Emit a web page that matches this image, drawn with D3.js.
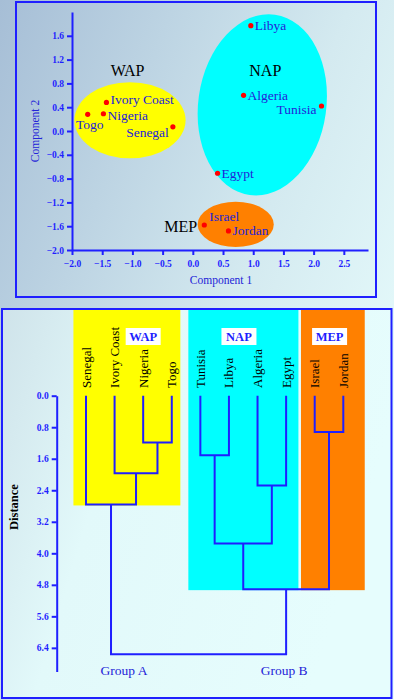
<!DOCTYPE html>
<html>
<head>
<meta charset="utf-8">
<script src="https://cdn.jsdelivr.net/npm/d3@7"></script>
<style>
    body { margin: 0; background: #dceef2; }
    svg { display: block; font-family: "Liberation Serif", "DejaVu Serif", serif; }
</style>
</head>
<body>
<script>
/* scatter (PCA) data */
const countries = ["Libya", "Algeria", "Tunisia", "Egypt", "Ivory Coast", "Nigeria", "Togo", "Senegal", "Israel", "Jordan"];
const comp1 = [0.96, 0.84, 2.13, 0.41, -1.43, -1.48, -1.74, -0.33, 0.19, 0.59];
const comp2 = [1.77, 0.60, 0.42, -0.71, 0.48, 0.29, 0.28, 0.07, -1.58, -1.68];

const groups = ["WAP", "NAP", "MEP"];
const groupColours = ["#ffff00", "#00ffff", "#ff8000"];
const ellipseCx = [-1.04, 1.15, 0.71];
const ellipseCy = [0.18, 0.44, -1.57];
const ellipseRx = [0.92, 1.06, 0.63];
const ellipseRy = [0.64, 1.53, 0.38];
const ellipseTilt = [0, 8, 0];

const xTicks = [-2.0, -1.5, -1.0, -0.5, 0.0, 0.5, 1.0, 1.5, 2.0, 2.5];
const yTicks = [-2.0, -1.6, -1.2, -0.8, -0.4, 0.0, 0.4, 0.8, 1.2, 1.6];

/* dendrogram data */
const leaves = ["Senegal", "Ivory Coast", "Nigeria", "Togo", "Tunisia", "Libya", "Algeria", "Egypt", "Israel", "Jordan"];
const mergeIds = ["n1", "n2", "A", "n3", "n4", "n5", "n6", "B", "root"];
const mergeLeft = ["Nigeria", "Ivory Coast", "Senegal", "Tunisia", "Algeria", "n3", "Israel", "n5", "A"];
const mergeRight = ["Togo", "n1", "n2", "Libya", "Egypt", "n4", "Jordan", "n6", "B"];
const mergeHeight = [1.19, 1.97, 2.76, 1.51, 2.28, 3.75, 0.92, 4.91, 6.56];
const distTicks = [0.0, 0.8, 1.6, 2.4, 3.2, 4.0, 4.8, 5.6, 6.4];

const groupFirst = ["Senegal", "Tunisia", "Israel"];
const groupLast = ["Togo", "Egypt", "Jordan"];
const groupBottom = ["A", "B", "B"];
const topGroups = ["Group A", "Group B"];
const topGroupNodes = ["A", "B"];

const blue = "#1f1fff";
const labelBlue = "#2323d8";

const svg = d3.select("body").append("svg")
    .attr("width", 394)
    .attr("height", 700);

const defs = svg.append("defs");
const pageGrad = defs.append("linearGradient").attr("id", "pageGrad")
    .attr("x1", 0).attr("y1", 0).attr("x2", 1).attr("y2", 0.7);
pageGrad.append("stop").attr("offset", "0%").attr("stop-color", "#a6bed6");
pageGrad.append("stop").attr("offset", "60%").attr("stop-color", "#d4eaf0");
pageGrad.append("stop").attr("offset", "100%").attr("stop-color", "#e8fdfd");

const lowGrad = defs.append("linearGradient").attr("id", "lowGrad")
    .attr("x1", 0).attr("y1", 0).attr("x2", 1).attr("y2", 0.3);
lowGrad.append("stop").attr("offset", "0%").attr("stop-color", "#cfe3ea");
lowGrad.append("stop").attr("offset", "35%").attr("stop-color", "#e2f9fa");
lowGrad.append("stop").attr("offset", "100%").attr("stop-color", "#e6fdfd");

svg.append("rect").attr("width", 394).attr("height", 700).attr("fill", "url(#pageGrad)");

// ---------- top panel ----------
svg.append("rect")
    .attr("x", 16).attr("y", 2).attr("width", 360).attr("height", 295)
    .attr("fill", "none").attr("stroke", blue).attr("stroke-width", 2);

const x = d3.scaleLinear().domain([-2, 2.9]).range([72, 368]);
const y = d3.scaleLinear().domain([-2, 2]).range([250, 12]);

const ellipses = svg.append("g");
groups.forEach((g, i) => {
    const cx = x(ellipseCx[i]);
    const cy = y(ellipseCy[i]);
    ellipses.append("ellipse")
        .attr("cx", cx).attr("cy", cy)
        .attr("rx", x(ellipseCx[i] + ellipseRx[i]) - cx)
        .attr("ry", cy - y(ellipseCy[i] + ellipseRy[i]))
        .attr("transform", `rotate(${ellipseTilt[i]}, ${cx}, ${cy})`)
        .attr("fill", groupColours[i]);
});

// group names on the scatter
const scatterGroupPos = {WAP: [-1.08, 1.03], NAP: [1.2, 1.03], MEP: [-0.2, -1.6]};
groups.forEach(g => {
    svg.append("text")
        .attr("x", x(scatterGroupPos[g][0]))
        .attr("y", y(scatterGroupPos[g][1]) + 6)
        .attr("text-anchor", "middle")
        .attr("font-size", 16)
        .attr("fill", "#000")
        .text(g);
});

const fmt = d3.format(".1f");
const xAxis = svg.append("g")
    .attr("transform", `translate(0, ${y(-2)})`)
    .call(d3.axisBottom(x).tickValues(xTicks).tickFormat(fmt).tickSize(5).tickSizeOuter(0));
const yAxis = svg.append("g")
    .attr("transform", `translate(${x(-2)}, 0)`)
    .call(d3.axisLeft(y).tickValues(yTicks).tickFormat(fmt).tickSize(5).tickSizeOuter(0));

[xAxis, yAxis].forEach(a => {
    a.select(".domain").attr("stroke", blue).attr("stroke-width", 2);
    a.selectAll(".tick line").attr("stroke", blue).attr("stroke-width", 2);
    a.selectAll(".tick text")
        .attr("fill", blue)
        .attr("font-family", "Liberation Serif, serif")
        .attr("font-weight", "bold")
        .attr("font-size", 9.5);
});
xAxis.selectAll(".tick text").attr("dy", "0.9em");

svg.append("text")
    .attr("x", 221).attr("y", 284)
    .attr("text-anchor", "middle")
    .attr("font-size", 11.5)
    .attr("fill", labelBlue)
    .text("Component 1");
svg.append("text")
    .attr("transform", `translate(39, ${y(0)}) rotate(-90)`)
    .attr("text-anchor", "middle")
    .attr("font-size", 11.5)
    .attr("fill", labelBlue)
    .text("Component 2");

// label placement around the points
const labelPlace = {
    "Tunisia": {dx: -5, dy: 8, anchor: "end"},
    "Togo": {dx: 2, dy: 15, anchor: "middle"},
    "Senegal": {dx: -4, dy: 10, anchor: "end"},
    "Israel": {dx: 5, dy: -4, anchor: "start"},
    "Ivory Coast": {dx: 4, dy: 2, anchor: "start"},
    "Nigeria": {dx: 4, dy: 6, anchor: "start"}
};

const points = svg.append("g");
countries.forEach((c, i) => {
    const px = x(comp1[i]);
    const py = y(comp2[i]);
    points.append("circle")
        .attr("cx", px).attr("cy", py).attr("r", 2.6)
        .attr("fill", "#ff0000");
    const p = labelPlace[c] || {dx: 4, dy: 4.5, anchor: "start"};
    points.append("text")
        .attr("x", px + p.dx).attr("y", py + p.dy)
        .attr("text-anchor", p.anchor)
        .attr("font-size", 13.5)
        .attr("fill", labelBlue)
        .text(c);
});

// ---------- bottom panel ----------
svg.append("rect")
    .attr("x", 2).attr("y", 309).attr("width", 389.5).attr("height", 389)
    .attr("fill", "url(#lowGrad)").attr("stroke", blue).attr("stroke-width", 2);

const lx = d3.scalePoint().domain(leaves).range([86, 343.3]);
const ly = d3.scaleLinear().domain([0, 7]).range([395.7, 671.5]);
const step = lx.step();

// node positions
const nodeX = {};
const nodeH = {};
leaves.forEach(l => { nodeX[l] = lx(l); nodeH[l] = 0; });
mergeIds.forEach((id, i) => {
    nodeX[id] = (nodeX[mergeLeft[i]] + nodeX[mergeRight[i]]) / 2;
    nodeH[id] = mergeHeight[i];
});

// coloured group bands
const padLeft = [0.44, 0.42, 0.48];
const padRight = [0.3, 0.43, 0.75];
groups.forEach((g, i) => {
    const x0 = lx(groupFirst[i]) - padLeft[i] * step;
    const x1 = lx(groupLast[i]) + padRight[i] * step;
    svg.append("rect")
        .attr("x", x0).attr("y", 310)
        .attr("width", x1 - x0)
        .attr("height", ly(nodeH[groupBottom[i]]) + 1 - 310)
        .attr("fill", groupColours[i]);
});

// group name boxes
const boxAt = {WAP: 2, NAP: 5.35, MEP: 8.52};
groups.forEach(g => {
    const cx = lx.range()[0] + boxAt[g] * step;
    svg.append("rect")
        .attr("x", cx - 17.5).attr("y", 328)
        .attr("width", 35).attr("height", 17)
        .attr("fill", "#fff");
    svg.append("text")
        .attr("x", cx).attr("y", 341)
        .attr("text-anchor", "middle")
        .attr("font-size", 12.5)
        .attr("font-weight", "bold")
        .attr("fill", blue)
        .text(g);
});

// leaf labels, reading bottom to top
leaves.forEach(l => {
    svg.append("text")
        .attr("transform", `translate(${lx(l) + 4.5}, 388) rotate(-90)`)
        .attr("text-anchor", "start")
        .attr("font-size", 13)
        .attr("fill", "#000")
        .text(l);
});

// dendrogram links
const links = svg.append("g")
    .attr("fill", "none")
    .attr("stroke", blue)
    .attr("stroke-width", 2);
mergeIds.forEach((id, i) => {
    const a = mergeLeft[i];
    const b = mergeRight[i];
    const yy = ly(mergeHeight[i]);
    links.append("path")
        .attr("d", `M${nodeX[a]},${ly(nodeH[a])}V${yy}H${nodeX[b]}V${ly(nodeH[b])}`);
});

const dAxis = svg.append("g")
    .attr("transform", "translate(56.7, 0)")
    .call(d3.axisLeft(ly).tickValues(distTicks).tickFormat(fmt).tickSize(5).tickSizeOuter(0));
dAxis.select(".domain").attr("stroke", blue).attr("stroke-width", 2);
dAxis.selectAll(".tick line").attr("stroke", blue).attr("stroke-width", 2);
dAxis.selectAll(".tick text")
    .attr("fill", blue)
    .attr("font-family", "Liberation Serif, serif")
    .attr("font-weight", "bold")
    .attr("font-size", 9.5);

svg.append("text")
    .attr("transform", `translate(18, 507) rotate(-90)`)
    .attr("text-anchor", "middle")
    .attr("font-size", 12.5)
    .attr("font-weight", "bold")
    .attr("fill", "#000")
    .text("Distance");

const topOffsets = [13, -2];
topGroups.forEach((t, i) => {
    svg.append("text")
        .attr("x", nodeX[topGroupNodes[i]] + topOffsets[i])
        .attr("y", 675)
        .attr("text-anchor", "middle")
        .attr("font-size", 13.5)
        .attr("fill", labelBlue)
        .text(t);
});
</script>
</body>
</html>
